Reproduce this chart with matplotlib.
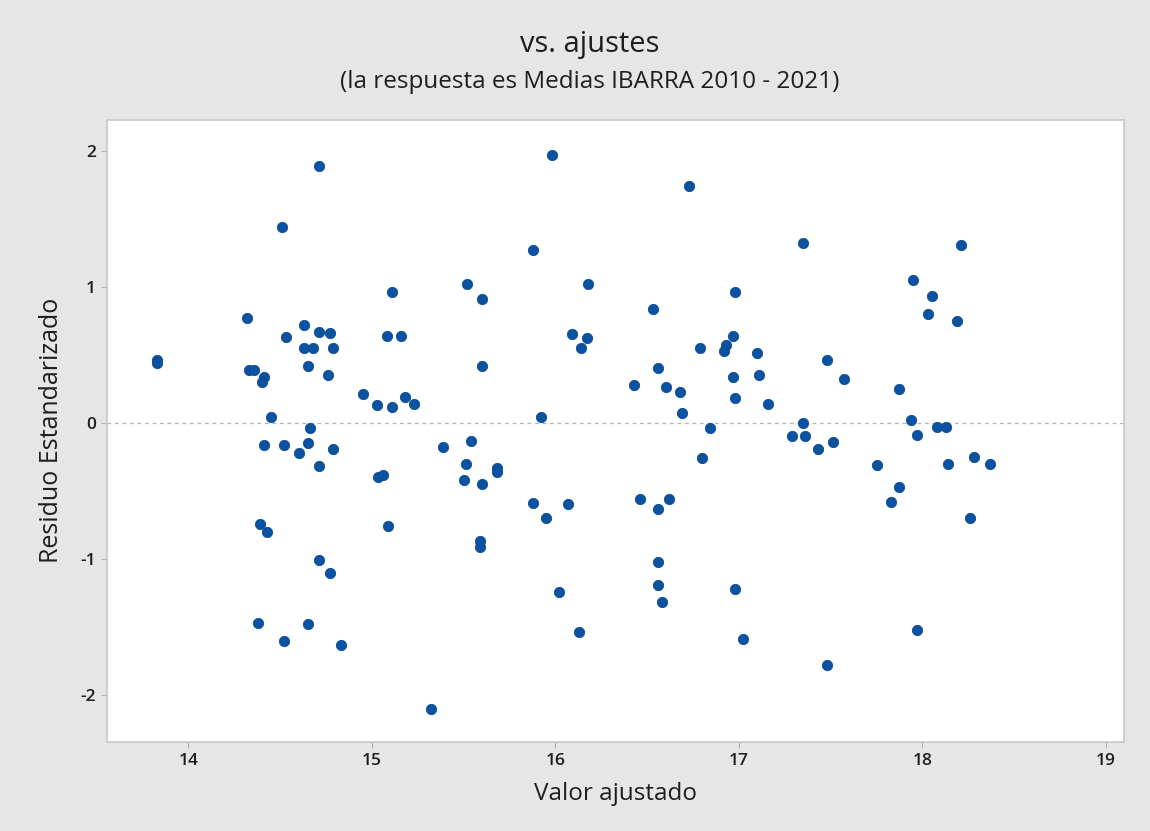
import matplotlib
matplotlib.use("Agg")
import matplotlib.pyplot as plt

plt.rcParams['font.family'] = ['Open Sans', 'DejaVu Sans']

# Fitted values and standardized residuals
fitted = [
    14.71, 14.51, 14.32, 14.63, 14.53, 14.71, 14.77, 14.63, 14.68, 14.79,
    13.83, 13.83, 14.65, 14.76, 14.33, 14.36, 14.41, 14.40, 14.95, 15.03,
    14.45, 14.66, 14.41, 14.52, 14.65, 14.60, 14.79, 14.71, 15.035, 14.39,
    14.43, 14.71, 14.77, 14.38, 14.65, 14.52, 14.83,
    15.98, 15.88, 15.11, 15.52, 15.60, 16.18, 15.08, 15.16, 16.09, 16.17,
    16.14, 15.60, 15.11, 15.18, 15.23, 15.92, 15.54, 15.39, 15.51, 15.68,
    15.68, 15.06, 15.50, 15.60, 15.88, 16.07, 15.95, 15.09, 15.59, 15.59,
    16.02, 16.13, 15.32,
    16.73, 17.35, 16.98, 16.53, 16.97, 16.93, 16.92, 16.79, 17.10, 17.48,
    16.56, 16.97, 17.11, 17.57, 16.43, 16.60, 16.68, 16.98, 17.16, 16.69,
    17.35, 16.84, 17.29, 17.36, 17.51, 17.43, 16.80, 17.75, 16.46, 16.62,
    16.56, 16.56, 16.56, 16.58, 16.98, 17.02, 17.48,
    18.21, 17.95, 18.05, 18.03, 18.19, 17.87, 17.94, 17.97, 18.08, 18.13,
    18.14, 18.28, 18.37, 17.87, 17.83, 18.26, 17.97,
]
residuals = [
    1.89, 1.44, 0.77, 0.72, 0.63, 0.67, 0.66, 0.55, 0.55, 0.55,
    0.46, 0.44, 0.42, 0.35, 0.39, 0.39, 0.34, 0.30, 0.21, 0.13,
    0.04, -0.04, -0.16, -0.16, -0.15, -0.22, -0.19, -0.32, -0.40, -0.74,
    -0.80, -1.01, -1.10, -1.47, -1.48, -1.60, -1.63,
    1.97, 1.27, 0.96, 1.02, 0.91, 1.02, 0.64, 0.64, 0.65, 0.62,
    0.55, 0.42, 0.12, 0.19, 0.14, 0.04, -0.13, -0.18, -0.30, -0.33,
    -0.36, -0.38, -0.42, -0.45, -0.59, -0.60, -0.70, -0.76, -0.87, -0.91,
    -1.24, -1.54, -2.10,
    1.74, 1.32, 0.96, 0.84, 0.64, 0.57, 0.53, 0.55, 0.51, 0.46,
    0.40, 0.34, 0.35, 0.32, 0.28, 0.26, 0.23, 0.18, 0.14, 0.07,
    0.00, -0.04, -0.10, -0.10, -0.14, -0.19, -0.26, -0.31, -0.56, -0.56,
    -0.63, -1.02, -1.19, -1.32, -1.22, -1.59, -1.78,
    1.31, 1.05, 0.93, 0.80, 0.75, 0.25, 0.02, -0.09, -0.03, -0.03,
    -0.30, -0.25, -0.30, -0.47, -0.58, -0.70, -1.52,
]

x_ticks = [14, 15, 16, 17, 18, 19]
y_ticks = [-2, -1, 0, 1, 2]

title = "vs. ajustes"
subtitle = "(la respuesta es Medias IBARRA 2010 - 2021)"
x_label = "Valor ajustado"
y_label = "Residuo Estandarizado"

fig = plt.figure(figsize=(11.5, 8.31), dpi=100, facecolor='#e6e6e6')
ax = fig.add_axes([0.093, 0.107, 0.884, 0.749])
ax.set_facecolor('white')

ax.axhline(0, color='#b4b4b4', linestyle=(0, (3, 3)), linewidth=0.9, zorder=1)
ax.scatter(fitted, residuals, s=55, color='#0b52a0', edgecolors='#0a4c98',
           linewidths=0.6, zorder=3)

ax.set_xlim(13.556, 19.096)
ax.set_ylim(-2.346, 2.228)
ax.set_xticks(x_ticks)
ax.set_yticks(y_ticks)
ax.set_yticklabels([str(t) for t in y_ticks])

for sp in ax.spines.values():
    sp.set_color('#c8c8c8')
    sp.set_linewidth(1.2)

ax.tick_params(axis='both', length=4, width=0.8, color='#b0b0b0',
               labelsize=12.5, labelcolor='#1e1e1e', pad=4)
for lbl in ax.get_xticklabels() + ax.get_yticklabels():
    lbl.set_fontweight('semibold')

ax.set_xlabel(x_label, fontsize=17.5, color='#1e1e1e', labelpad=9)
ax.set_ylabel(y_label, fontsize=18, color='#1e1e1e', labelpad=12)

fig.text(0.513, 0.946, title, ha='center', va='center', fontsize=21,
         color='#1e1e1e')
fig.text(0.513, 0.901, subtitle, ha='center', va='center', fontsize=17.5,
         color='#1e1e1e')

fig.savefig('out.png', dpi=100, facecolor=fig.get_facecolor())
